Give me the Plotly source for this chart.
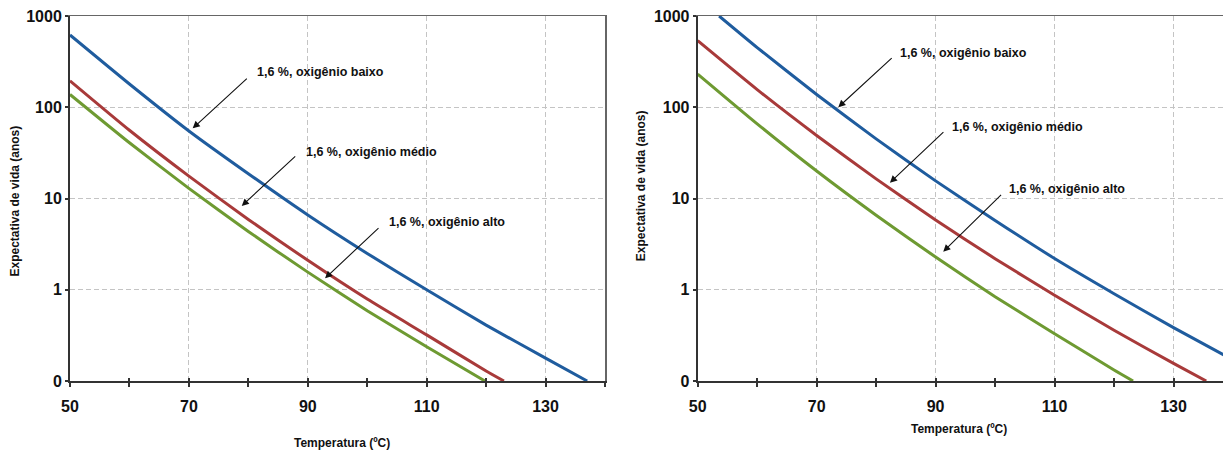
import math
import plotly.graph_objects as go

# ---------------- data ----------------
# Left panel
L_blue_t = [50, 60, 70, 80, 90, 100, 110, 120, 130, 137]
L_blue_v = [620, 180, 55, 18.7, 6.6, 2.5, 1.0, 0.41, 0.178, 0.1]
L_red_t = [50, 60, 70, 80, 90, 100, 110, 120, 123]
L_red_v = [195, 56, 17.6, 5.9, 2.1, 0.79, 0.32, 0.129, 0.1]
L_green_t = [50, 60, 70, 80, 90, 100, 110, 119.8]
L_green_v = [138, 40.8, 12.9, 4.35, 1.56, 0.59, 0.237, 0.1]

# Right panel
R_blue_t = [53.6, 60, 70, 80, 90, 100, 110, 120, 130, 139.6]
R_blue_v = [1000, 451, 138, 45, 15.6, 5.75, 2.2, 0.905, 0.385, 0.176]
R_red_t = [50, 60, 70, 80, 90, 100, 110, 120, 130, 135.5]
R_red_v = [536, 156, 49, 16.4, 5.8, 2.19, 0.87, 0.36, 0.156, 0.1]
R_green_t = [50, 60, 70, 80, 90, 100, 110, 120, 123.2]
R_green_v = [231, 65.8, 20, 6.56, 2.28, 0.84, 0.33, 0.132, 0.1]

x_major = [50, 70, 90, 110, 130]
x_minor = [60, 80, 100, 120, 140]
x_all = [50, 60, 70, 80, 90, 100, 110, 120, 130, 140]
y_vals = [0.1, 1, 10, 100, 1000]
y_text = ["0", "1", "10", "100", "1000"]

labels = ["1,6 %, oxigênio baixo", "1,6 %, oxigênio médio", "1,6 %, oxigênio alto"]
x_title = "Temperatura (ºC)"
y_title = "Expectativa de vida (anos)"

BLUE = "#1F5C9E"
RED = "#A83A3A"
GREEN = "#6E9A32"
FONT = "Liberation Sans, Arial, sans-serif"

W, H = 1231, 450
L_dom = [62 / W, 597 / W]
R_dom = [689.7 / W, 1225 / W]
Y_dom = [1 - 373 / H, 1 - 8 / H]
L_range = [50, 140]
R_range = [50, 140]
Y_range = [-1.00002, 3.00002]

fig = go.Figure()

def add_line(t, v, color, xa, ya):
    fig.add_trace(go.Scatter(x=t, y=v, mode="lines", xaxis=xa, yaxis=ya,
                             line=dict(color=color, width=3, shape="spline", smoothing=0.5),
                             showlegend=False, hoverinfo="skip"))

add_line(L_blue_t, L_blue_v, BLUE, "x", "y")
add_line(L_red_t, L_red_v, RED, "x", "y")
add_line(L_green_t, L_green_v, GREEN, "x", "y")
add_line(R_blue_t, R_blue_v, BLUE, "x2", "y2")
add_line(R_red_t, R_red_v, RED, "x2", "y2")
add_line(R_green_t, R_green_v, GREEN, "x2", "y2")

# dummy traces for overlay axes
for xa, ya in [("x3", "y"), ("x5", "y"), ("x", "y3"), ("x4", "y2"), ("x6", "y2")]:
    fig.add_trace(go.Scatter(x=[None], y=[None], xaxis=xa, yaxis=ya, mode="lines",
                             showlegend=False, hoverinfo="skip"))

tickfont = dict(family=FONT, size=16, color="#111", weight="bold")
grid = dict(showgrid=True, gridcolor="#c4c4c4", gridwidth=1, griddash="5px,3px")

def xmain(dom, rng, anchor):
    return dict(domain=dom, range=rng, anchor=anchor, tickvals=x_major,
                ticks="outside", ticklen=4, tickwidth=1.5, tickcolor="#333",
                minor=dict(tickvals=x_minor, ticks="outside", ticklen=4, tickwidth=1.5,
                           tickcolor="#333", showgrid=False),
                showline=True, linecolor="#333", linewidth=2, zeroline=False,
                tickfont=tickfont, ticklabelstandoff=6, automargin=False,
                ticklabeloverflow="allow", **grid)

def ymain(anchor):
    return dict(domain=Y_dom, type="log", range=Y_range, anchor=anchor,
                tickvals=y_vals, ticktext=y_text, ticks="outside", ticklen=3,
                tickwidth=1.5, tickcolor="#333", showline=True, linecolor="#333",
                linewidth=2, zeroline=False, tickfont=tickfont, ticklabelstandoff=0,
                automargin=False, ticklabeloverflow="allow", **grid)

def xinside(over, rng, anchor):
    return dict(overlaying=over, range=rng, anchor=anchor, side="bottom",
                tickvals=x_all, ticks="inside", ticklen=3, tickwidth=1.5, tickcolor="#333",
                showticklabels=False, showgrid=False, zeroline=False, showline=False,
                automargin=False)

def xtop(over, rng, anchor):
    return dict(overlaying=over, range=rng, anchor=anchor, side="top",
                showline=True, linecolor="#666", linewidth=1.2, ticks="",
                showticklabels=False, showgrid=False, zeroline=False, automargin=False)

fig.update_layout(
    width=W, height=H,
    margin=dict(l=0, r=0, t=0, b=0, autoexpand=False),
    paper_bgcolor="white", plot_bgcolor="white",
    xaxis=xmain(L_dom, L_range, "y"),
    yaxis=ymain("x"),
    xaxis2=xmain(R_dom, R_range, "y2"),
    yaxis2=ymain("x2"),
    xaxis3=xinside("x", L_range, "y"),
    xaxis4=xinside("x2", R_range, "y2"),
    xaxis5=xtop("x", L_range, "y"),
    xaxis6=xtop("x2", R_range, "y2"),
    yaxis3=dict(overlaying="y", type="log", range=Y_range, anchor="x", side="right",
                showline=True, linecolor="#666", linewidth=1.5, ticks="",
                showticklabels=False, showgrid=False, zeroline=False, automargin=False),
    showlegend=False,
)

afont = dict(family=FONT, size=12.5, color="#111", weight="bold")

# arrows: (tip_x, tip_logy, tail_x, tail_logy, text_x, text_logy, label, xref, yref)
arrows = [
    (70.64, 1.769, 80.0, 2.328, 81.12, 2.386, labels[0], "x", "y"),
    (78.89, 0.918, 88.14, 1.477, 89.37, 1.513, labels[1], "x", "y"),
    (92.90, 0.125, 102.15, 0.691, 103.28, 0.746, labels[2], "x", "y"),
    (73.63, 2.0, 82.87, 2.554, 83.66, 2.595, labels[0], "x2", "y2"),
    (82.32, 1.173, 91.56, 1.743, 92.40, 1.787, labels[1], "x2", "y2"),
    (91.28, 0.417, 101.26, 1.057, 101.93, 1.104, labels[2], "x2", "y2"),
]
for tx, ty, ax, ay, lx, ly, lab, xr, yr in arrows:
    fig.add_annotation(x=tx, y=ty, ax=ax, ay=ay, xref=xr, yref=yr, axref=xr, ayref=yr,
                       text="", showarrow=True, arrowhead=2, arrowsize=1.3,
                       arrowwidth=1.1, arrowcolor="#111")
    fig.add_annotation(x=lx, y=ly, xref=xr, yref=yr, text=lab, showarrow=False,
                       xanchor="left", yanchor="middle", font=afont)

tfont = dict(family=FONT, size=12, color="#111", weight="bold")
titles = [
    (7, 193.5, y_title, -90),
    (633.7, 177.5, y_title, -90),
    (334, 435, x_title, 0),
    (950.5, 421, x_title, 0),
]
for px, py, txt, ang in titles:
    fig.add_annotation(x=px / W, y=1 - py / H, xref="paper", yref="paper", text=txt,
                       textangle=ang, showarrow=False, font=tfont,
                       xanchor="center", yanchor="middle")

fig.write_html("out.html")
